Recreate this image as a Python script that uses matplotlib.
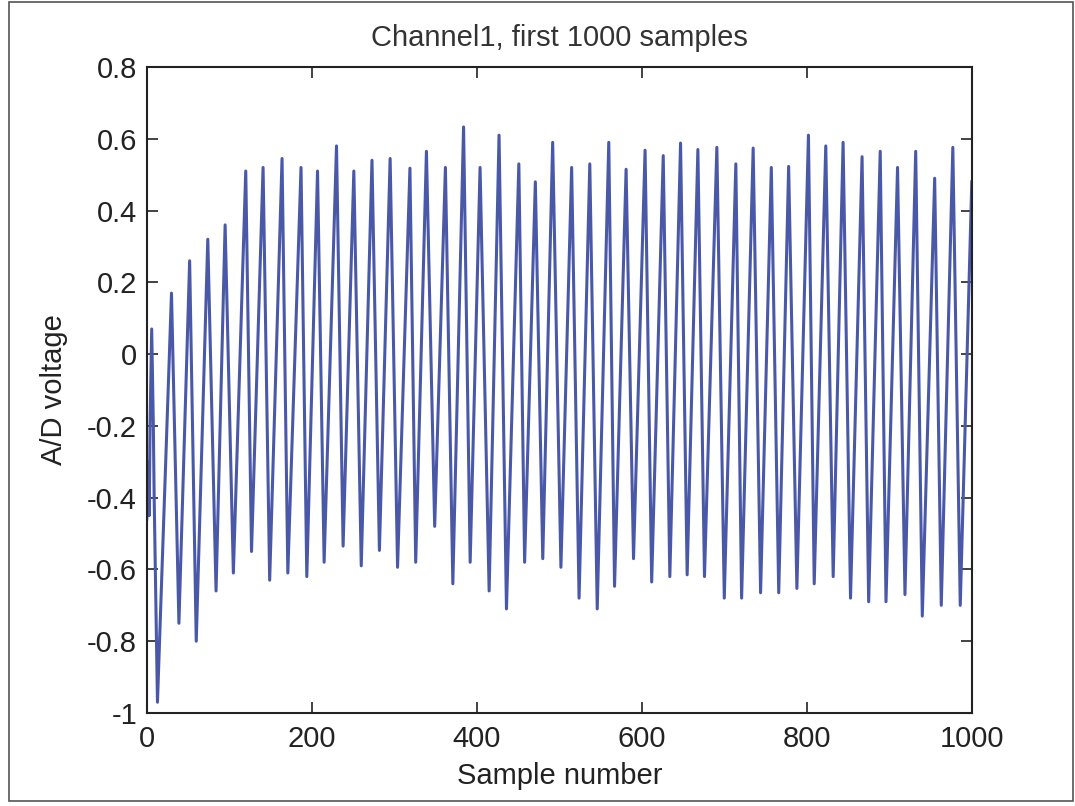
import matplotlib
matplotlib.use("Agg")
import matplotlib.pyplot as plt
from matplotlib.patches import Rectangle

# Sample positions and A/D voltages (turning points of the trace)
samples = [0, 2, 3, 4, 6, 8, 9, 13,
           30, 39, 52, 60, 74, 84, 95, 105, 120, 127, 141, 149, 164, 171,
           187, 194, 207, 215, 230, 238, 251, 260, 273, 282, 295, 304,
           319, 326, 339, 349, 362, 371, 384, 392, 404, 415, 427, 436,
           451, 458, 471, 480, 492, 502, 515, 524, 537, 546, 560, 567,
           581, 590, 604, 612, 626, 634, 647, 655, 668, 676, 691, 700,
           714, 721, 735, 744, 757, 766, 778, 788, 802, 809, 823, 832,
           844, 853, 867, 875, 889, 896, 910, 919, 932, 940, 955, 963,
           977, 986, 1000]
voltage = [-0.46, -0.30, -0.45, -0.20, 0.07, -0.20, -0.40, -0.97,
           0.17, -0.75, 0.26, -0.80, 0.32, -0.66, 0.36, -0.61, 0.51, -0.55, 0.52, -0.63, 0.545, -0.61,
           0.52, -0.62, 0.51, -0.58, 0.58, -0.535, 0.51, -0.59, 0.54, -0.547, 0.545, -0.594,
           0.518, -0.58, 0.565, -0.48, 0.52, -0.64, 0.633, -0.58, 0.52, -0.66, 0.61, -0.71,
           0.53, -0.58, 0.48, -0.57, 0.59, -0.594, 0.52, -0.68, 0.53, -0.71, 0.59, -0.647,
           0.515, -0.57, 0.568, -0.635, 0.553, -0.62, 0.588, -0.615, 0.57, -0.62, 0.576, -0.68,
           0.53, -0.68, 0.574, -0.665, 0.52, -0.665, 0.523, -0.653, 0.61, -0.64, 0.58, -0.62,
           0.59, -0.68, 0.55, -0.69, 0.565, -0.69, 0.52, -0.67, 0.565, -0.73, 0.49, -0.70,
           0.576, -0.70, 0.48]

xticks = [0, 200, 400, 600, 800, 1000]
yticks = [-1, -0.8, -0.6, -0.4, -0.2, 0, 0.2, 0.4, 0.6, 0.8]
ytick_labels = ["-1", "-0.8", "-0.6", "-0.4", "-0.2", "0", "0.2", "0.4", "0.6", "0.8"]

plt.rcParams["font.family"] = ["Liberation Sans", "DejaVu Sans"]

fig = plt.figure(figsize=(10.75, 8.06), dpi=100)
ax = fig.add_axes([0.1365, 0.1154, 0.7675, 0.8015])

ax.plot(samples, voltage, color="#4a58a8", linewidth=2.2)

ax.set_xlim(0, 1000)
ax.set_ylim(-1, 0.8)
ax.set_xticks(xticks)
ax.set_yticks(yticks)
ax.set_yticklabels(ytick_labels)
ax.tick_params(direction="in", length=8, width=1.2, labelsize=21, top=True, right=True,
               colors="#222222")
ax.tick_params(axis="x", pad=9)
ax.tick_params(axis="y", pad=7)
for s in ax.spines.values():
    s.set_linewidth(1.5)
    s.set_color("#222222")

ax.set_title("Channel1, first 1000 samples", fontsize=21, color="#333333", pad=15)
ax.set_xlabel("Sample number", fontsize=21, color="#222222", labelpad=6)
ax.set_ylabel("A/D voltage", fontsize=21, color="#222222", labelpad=14)

# thin frame round the whole figure, as in the scanned original
fig.patches.append(Rectangle((0.008, 0.006), 0.99, 0.992, transform=fig.transFigure,
                             fill=False, edgecolor="#555555", linewidth=1.2))

fig.savefig("out.png", dpi=100)
